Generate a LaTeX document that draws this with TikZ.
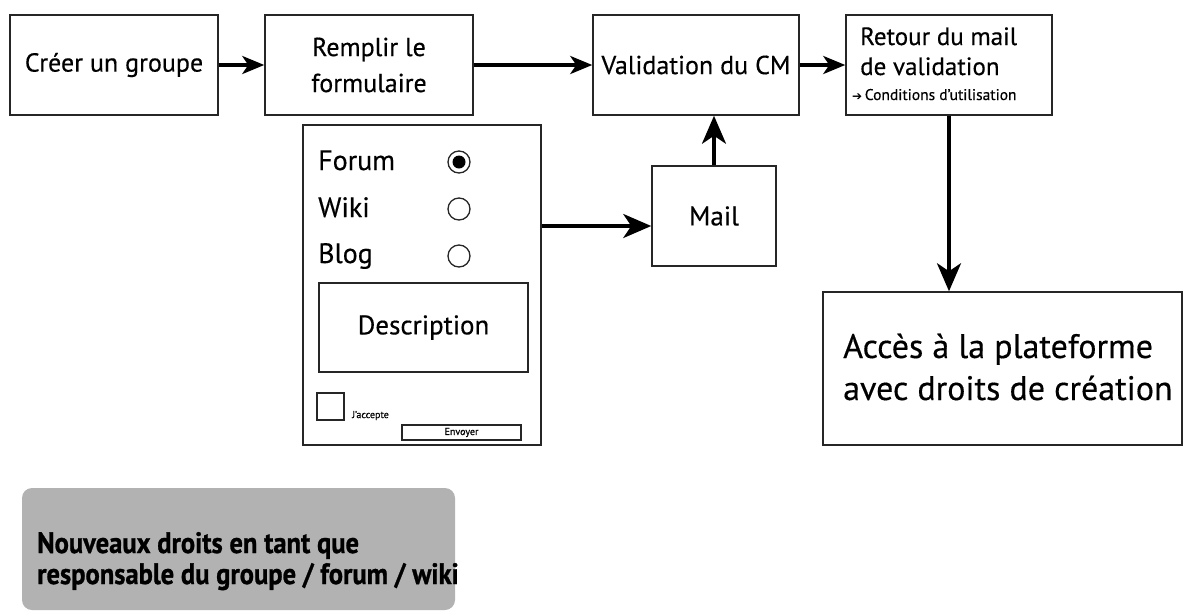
\documentclass[tikz,border=0pt]{standalone}
\usepackage{graphicx}
\usepackage{fontspec}
\setmainfont[FakeBold=0.4]{PT Sans}
\newfontfamily\symfont{DejaVu Sans}
\newfontfamily\notefont[FakeBold=1]{PT Sans Bold}
\usetikzlibrary{arrows.meta}
\begin{document}
\begin{tikzpicture}[x=1pt,y=-1pt,
  box/.style={draw=black!85,line width=1.5pt,inner sep=0pt,align=center},
  lbl/.style={inner sep=0pt,anchor=base west},
  conn/.style={line width=3.5pt,-{Stealth[length=22pt,width=18pt,inset=6pt]}},
  bigconn/.style={line width=3.5pt,-{Stealth[length=28pt,width=24pt,inset=8pt]}},
  radio/.style={circle,draw=black!85,line width=1.3pt,minimum size=22pt,inner sep=0pt},
  dot/.style={circle,fill=black,minimum size=13pt,inner sep=0pt},
  bigf/.style={font=\fontsize{26}{36}\selectfont},
  formf/.style={font=\fontsize{28}{30}\selectfont}
]
\useasboundingbox (0,0) rectangle (1184,611);
% top row
\node[box,bigf,minimum width=208pt,minimum height=100pt] (b1) at (114,65) {Créer un groupe};
\node[box,bigf,minimum width=208pt,minimum height=100pt] (b2) at (369,65) {Remplir le\\formulaire};
\node[box,bigf,minimum width=206pt,minimum height=100pt] (b3) at (696,65) {Validation du CM};
\node[box,minimum width=206pt,minimum height=100pt] (b4) at (949,65) {};
\node[lbl,font=\fontsize{25}{30}\selectfont] (t4a) at (860,45) {Retour du mail};
\node[lbl,font=\fontsize{25}{30}\selectfont] (t4b) at (860,75) {de validation};
\node[lbl,font=\fontsize{15.5}{18}\selectfont] (t4c) at (852,100) {{\symfont\fontsize{12}{12}\selectfont ➔}\,Conditions d'utilisation};
% form
\node[box,minimum width=238pt,minimum height=320pt] (form) at (422,285) {};
\node[lbl,formf] (fo) at (318,170) {Forum};
\node[lbl,formf] (wi) at (318,217) {Wiki};
\node[lbl,formf] (bl) at (318,263) {Blog};
\node[radio] (r1) at (459,162) {};
\node[dot] (r1d) at (r1.center) {};
\node[radio] (r2) at (459,209) {};
\node[radio] (r3) at (459,256) {};
\node[box,font=\fontsize{27}{30}\selectfont,minimum width=209pt,minimum height=89pt] (desc) at (423.5,327.5) {Description};
\node[draw=black!85,line width=1.3pt,minimum width=27pt,minimum height=27pt,inner sep=0pt] (chk) at (330.5,406.5) {};
\node[lbl,font=\fontsize{10}{12}\selectfont] (acc) at (352,418) {J'accepte};
\node[box,line width=1.3pt,font=\fontsize{10}{12}\selectfont,minimum width=119pt,minimum height=15pt] (env) at (461.5,432.5) {Envoyer};
% mail
\node[box,font=\fontsize{27}{30}\selectfont,minimum width=124pt,minimum height=100pt] (mail) at (714,216) {Mail};
% acces
\node[box,minimum width=359pt,minimum height=153pt] (acces) at (1002.5,368.5) {};
\node[lbl,font=\fontsize{34}{42}\selectfont] (ac1) at (843,358) {Accès à la plateforme};
\node[lbl,font=\fontsize{34}{42}\selectfont] (ac2) at (843,400) {avec droits de création};
% gray note
\node[fill=black!30,rounded corners=10pt,minimum width=433pt,minimum height=122pt,inner sep=0pt] (note) at (238.5,549) {};
\node[lbl,font=\notefont\fontsize{29.5}{30}\selectfont] (n1) at (37,553) {\scalebox{0.9}[1]{Nouveaux droits en tant que}};
\node[lbl,font=\notefont\fontsize{29.5}{30}\selectfont] (n2) at (37,584) {\scalebox{0.9}[1]{responsable du groupe / forum / wiki}};
% connectors
\draw[conn] (b1.east) -- (b2.west);
\draw[conn] (b2.east) -- (b3.west);
\draw[conn] (b3.east) -- (b4.west);
\draw[bigconn] (form.east |- 0,226) -- (mail.west |- 0,226);
\draw[bigconn] (mail.north) -- (b3.south -| mail.north);
\draw[bigconn] (b4.south) -- (acces.north -| b4.south);
\end{tikzpicture}
\end{document}
